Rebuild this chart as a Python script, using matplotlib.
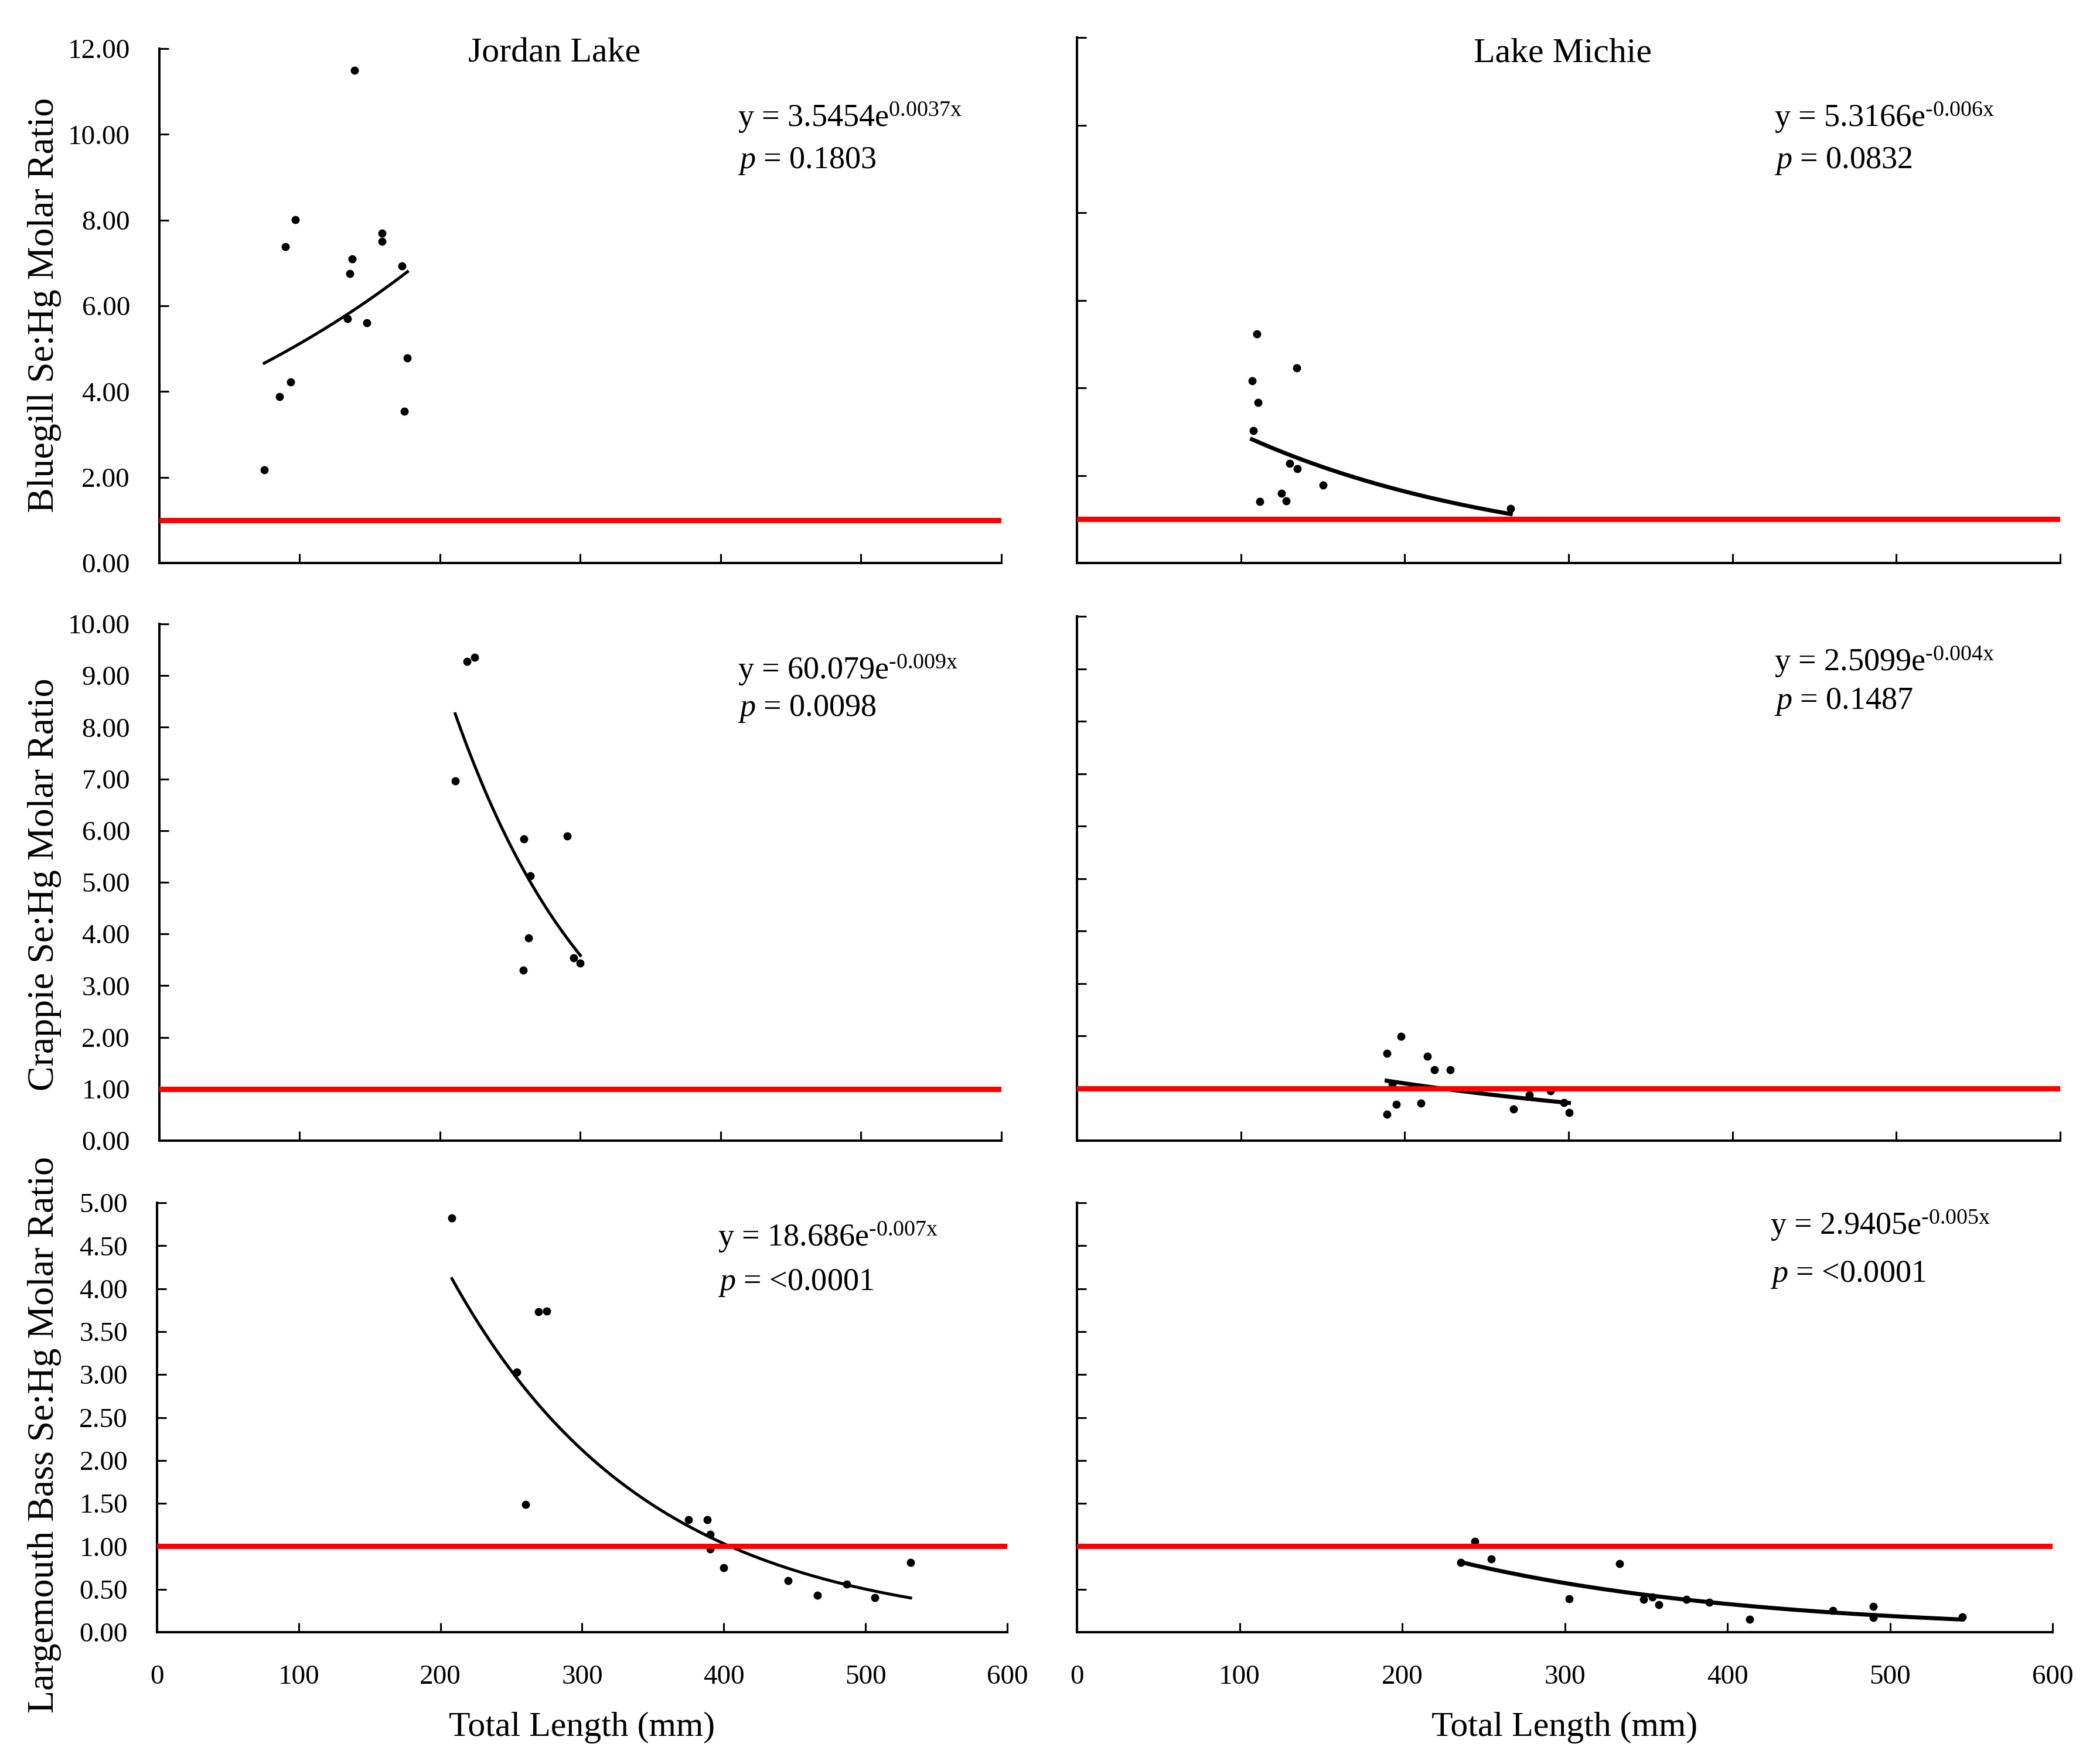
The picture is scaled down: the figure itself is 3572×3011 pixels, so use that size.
import numpy as np
import matplotlib.pyplot as plt

plt.rcParams['font.family'] = ['Liberation Serif', 'DejaVu Serif']
plt.rcParams['mathtext.fontset'] = 'custom'
plt.rcParams['mathtext.rm'] = 'Liberation Serif'
plt.rcParams['mathtext.it'] = 'Liberation Serif:italic'

# --- data (total length mm, Se:Hg molar ratio) ---
bg_jordan_x = [74.7, 85.8, 89.6, 93.4, 96.8, 134.2, 135.6, 137.5, 139.0, 147.6, 158.6, 158.6, 173.0, 174.4, 176.8]
bg_jordan_y = [2.17, 3.88, 7.38, 4.23, 8.01, 5.70, 6.75, 7.09, 11.49, 5.61, 7.70, 7.50, 6.93, 3.54, 4.78]

bg_michie_x = [109.6, 106.8, 110.4, 107.6, 134.2, 129.7, 134.6, 150.3, 124.9, 111.6, 127.7, 264.7]
bg_michie_y = [5.23, 4.16, 3.66, 3.02, 4.45, 2.27, 2.15, 1.78, 1.59, 1.41, 1.42, 1.25]

cr_jordan_x = [210.8, 219.0, 224.7, 259.7, 290.4, 264.5, 263.1, 259.2, 295.2, 300.0]
cr_jordan_y = [6.96, 9.27, 9.35, 5.84, 5.90, 5.13, 3.92, 3.30, 3.54, 3.44]

cr_michie_x = [189.0, 197.8, 214.0, 218.0, 227.7, 192.2, 189.0, 195.0, 209.9, 266.4, 276.0, 288.9, 297.0, 300.2]
cr_michie_y = [1.67, 1.99, 1.61, 1.35, 1.35, 1.08, 0.50, 0.69, 0.71, 0.60, 0.87, 0.95, 0.73, 0.54]

lmb_jordan_x = [208.1, 254.0, 260.2, 269.2, 274.9, 374.9, 388.2, 390.5, 390.5, 400.0, 445.5, 465.9, 486.7, 506.6, 531.8]
lmb_jordan_y = [4.82, 3.03, 1.49, 3.73, 3.74, 1.31, 1.31, 1.14, 0.97, 0.75, 0.60, 0.43, 0.56, 0.40, 0.81]

lmb_michie_x = [236.2, 244.7, 254.8, 302.6, 333.7, 348.6, 353.7, 357.8, 374.8, 388.7, 413.7, 465.0, 489.9, 489.9, 544.5]
lmb_michie_y = [0.81, 1.06, 0.85, 0.39, 0.80, 0.38, 0.41, 0.32, 0.38, 0.35, 0.15, 0.25, 0.30, 0.17, 0.18]

equations = ['y = 3.5454e$^{\\mathrm{0.0037x}}$', 'y = 5.3166e$^{\\mathrm{‐0.006x}}$',
             'y = 60.079e$^{\\mathrm{‐0.009x}}$', 'y = 2.5099e$^{\\mathrm{‐0.004x}}$',
             'y = 18.686e$^{\\mathrm{‐0.007x}}$', 'y = 2.9405e$^{\\mathrm{‐0.005x}}$']
pvalues = ['0.1803', '0.0832', '0.0098', '0.1487', '<0.0001', '<0.0001']
lakes = ['Jordan Lake', 'Lake Michie']
ylabels = ['Bluegill Se:Hg Molar Ratio', 'Crappie Se:Hg Molar Ratio',
           'Largemouth Bass Se:Hg Molar Ratio']
row_ymax = [12, 10, 5]
row_ystep = [2, 1, 0.5]
threshold = 1.0

series = [(bg_jordan_x, bg_jordan_y), (bg_michie_x, bg_michie_y),
          (cr_jordan_x, cr_jordan_y), (cr_michie_x, cr_michie_y),
          (lmb_jordan_x, lmb_jordan_y), (lmb_michie_x, lmb_michie_y)]

W, H = 3573, 3011
fig = plt.figure(figsize=(W / 100, H / 100), dpi=100)


def fx(x):
    return x / W


def fy(y):
    return 1 - y / H


# axes boxes in pixels: left, right, top, bottom
boxes = [(272, 1709, 83, 961), (1838, 3516, 64, 961),
         (272, 1709, 1065, 1947), (1838, 3516, 1052, 1947),
         (268, 1719, 2053, 2786), (1838, 3503, 2053, 2786)]
# text anchors in pixels (eq x, eq baseline, p baseline)
eq_pos = [(1259, 216, 287), (3028, 216, 287),
          (1259, 1159, 1222), (3028, 1145, 1210),
          (1225, 2127, 2202), (3021, 2107, 2188)]

for i, (xs, ys) in enumerate(series):
    row, col = i // 2, i % 2
    l, r, t, b = boxes[i]
    ax = fig.add_axes([fx(l), fy(b), (r - l) / W, (b - t) / H])

    # exponential trendline fitted to the points (least squares on ln y)
    coef = np.polyfit(xs, np.log(ys), 1)
    xx = np.linspace(min(xs), max(xs), 200)
    lw = 3.6 if col == 0 else 5.0
    ax.plot(xx, np.exp(coef[1]) * np.exp(coef[0] * xx), color='black', lw=lw, zorder=3)
    ax.plot(xs, ys, 'o', color='black', ms=9, zorder=3)
    ax.axhline(threshold, color='#ff0000', lw=6.5, zorder=5)

    ax.set_xlim(0, 600)
    ax.set_ylim(0, row_ymax[row])
    ax.set_xticks(np.arange(0, 601, 100))
    ax.set_yticks(np.arange(0, row_ymax[row] + 0.001, row_ystep[row]))
    ax.yaxis.set_major_formatter(plt.FormatStrFormatter('%.2f'))
    for s in ['top', 'right']:
        ax.spines[s].set_visible(False)
    for s in ['left', 'bottom']:
        ax.spines[s].set_linewidth(2.9)
    ax.tick_params(direction='in', length=11.5, width=2.2, labelsize=34)
    ax.tick_params(axis='y', pad=36)
    ax.tick_params(axis='x', pad=40)
    if col == 1:
        ax.tick_params(labelleft=False)
    if row < 2:
        ax.tick_params(labelbottom=False)

    ex, ey, py = eq_pos[i]
    fig.text(fx(ex), fy(ey), equations[i], fontsize=39, va='baseline')
    fig.text(fx(ex), fy(py), '$\\mathit{p}$ = ' + pvalues[i], fontsize=39, va='baseline')

    if row == 2:
        fig.text(fx((l + r) / 2), fy(2922), 'Total Length (mm)', fontsize=43,
                 ha='center', va='top')

fig.text(fx(946), fy(106), lakes[0], fontsize=43, ha='center', va='baseline')
fig.text(fx(2667), fy(106), lakes[1], fontsize=43, ha='center', va='baseline')

for yc, lab in zip([521, 1510, 2449], ylabels):
    fig.text(fx(76), fy(yc), lab, fontsize=46, rotation=90, ha='center', va='center')

fig.savefig('out.png', dpi=100)
